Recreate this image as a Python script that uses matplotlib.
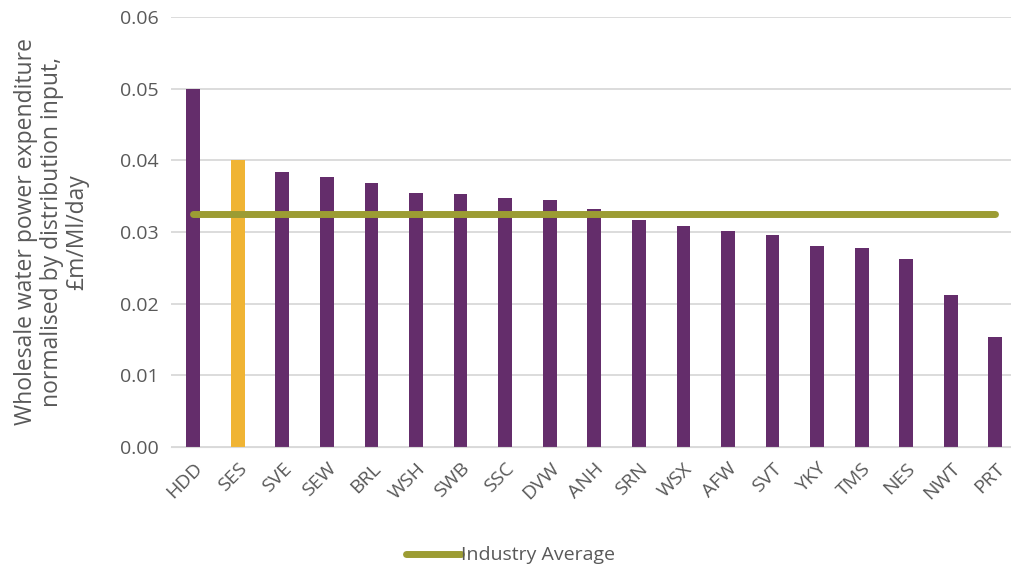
import numpy as np
import matplotlib.pyplot as plt

companies = ['HDD', 'SES', 'SVE', 'SEW', 'BRL', 'WSH', 'SWB', 'SSC', 'DVW', 'ANH',
             'SRN', 'WSX', 'AFW', 'SVT', 'YKY', 'TMS', 'NES', 'NWT', 'PRT']
expenditure = [0.0500, 0.0400, 0.0383, 0.0376, 0.0368, 0.0354, 0.0353, 0.0347, 0.0345, 0.0332,
               0.0316, 0.0309, 0.0302, 0.0296, 0.0281, 0.0277, 0.0262, 0.0212, 0.0154]
industry_average = 0.0325

plt.rcParams['font.family'] = ['Open Sans', 'DejaVu Sans']

purple = '#642D6B'
orange = '#F0B434'
olive = '#9C9C33'
grey_text = '#595959'

fig = plt.figure(figsize=(10.11, 5.75), dpi=100)
ax = fig.add_axes([0.169, 0.2226, 0.831, 0.748])

x = np.arange(len(companies))
colors = [orange if c == 'SES' else purple for c in companies]
ax.bar(x, expenditure, width=0.31, color=colors, zorder=2)
ax.plot([x[0], x[-1]], [industry_average, industry_average], color=olive, lw=5,
        solid_capstyle='round', label='Industry Average', zorder=3)

ax.set_xlim(-0.5, 18.35)
ax.set_ylim(0, 0.06)
ax.set_yticks(np.arange(0, 0.061, 0.01))
ax.set_yticklabels([f'{v:.2f}' for v in np.arange(0, 0.061, 0.01)])
ax.set_xticks(x)
ax.set_xticklabels(companies, rotation=45, ha='right', rotation_mode='anchor')
ax.tick_params(axis='both', length=0, labelsize=14, colors=grey_text, pad=9)
ax.grid(axis='y', color='#D9D9D9', lw=1.3, zorder=0)
for s in ax.spines.values():
    s.set_visible(False)
ax.spines['bottom'].set_visible(True)
ax.spines['bottom'].set_color('#D9D9D9')

ax.set_ylabel('Wholesale water power expenditure\nnormalised by distribution input,\n£m/Ml/day',
              fontsize=16.5, color=grey_text, labelpad=22, linespacing=1.08)

fig.legend(loc='lower center', bbox_to_anchor=(0.505, -0.012), frameon=False, fontsize=14,
           labelcolor=grey_text, handlelength=2.8, handletextpad=0.0)

fig.savefig('out.png', dpi=100)
